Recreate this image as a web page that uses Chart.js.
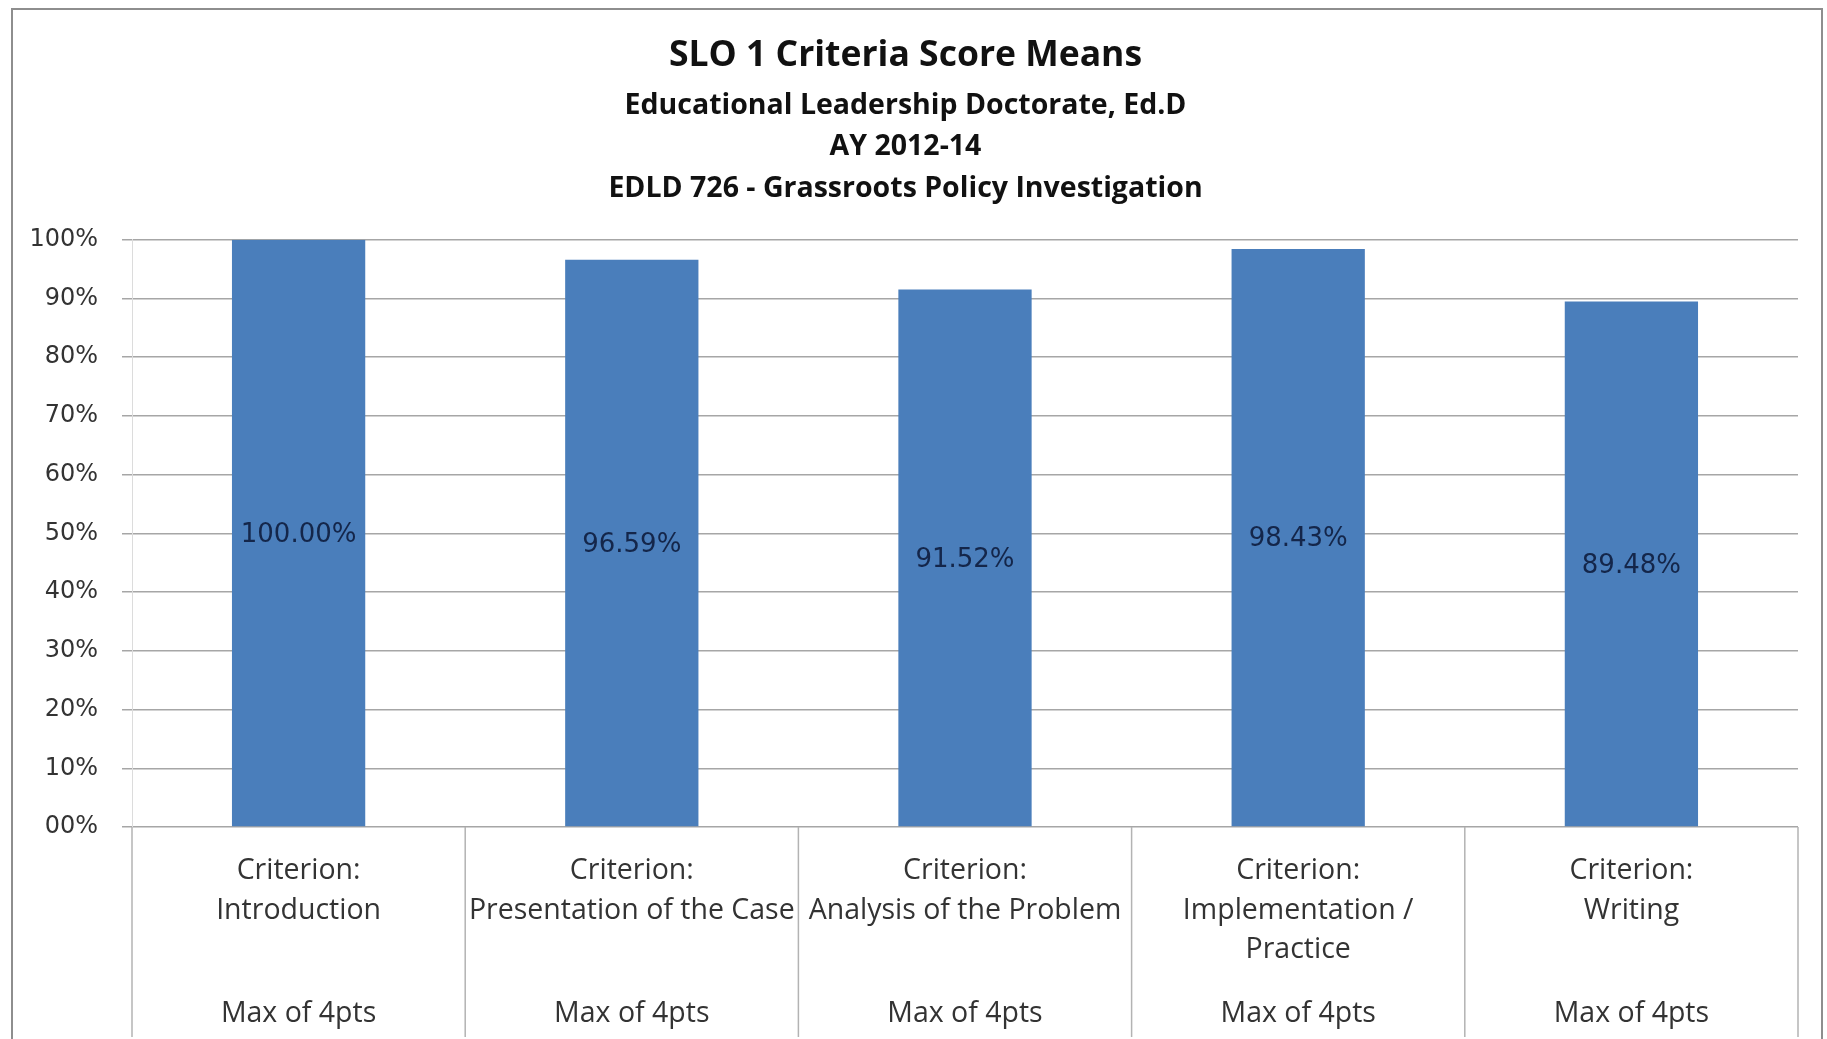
<!DOCTYPE html>
<html lang="en">
<head>
<meta charset="UTF-8">
<title>SLO 1 Criteria Score Means</title>
<script src="https://cdn.jsdelivr.net/npm/chart.js@4.4.0/dist/chart.umd.min.js"></script>
<style>
  html, body { margin: 0; padding: 0; background: #fff; }
  .frame {
    position: absolute; left: 11px; top: 8px; width: 1808px; height: 1031px;
    border: 2px solid #8e8e8e; border-bottom: none;
  }
</style>
</head>
<body>
<div class="frame"><canvas id="chart"></canvas></div>
<script>
// chart data
var criteria = [
  ['Criterion:', 'Introduction'],
  ['Criterion:', 'Presentation of the Case'],
  ['Criterion:', 'Analysis of the Problem'],
  ['Criterion:', 'Implementation /', 'Practice'],
  ['Criterion:', 'Writing']
];
var maxPoints = ['Max of 4pts', 'Max of 4pts', 'Max of 4pts', 'Max of 4pts', 'Max of 4pts'];
var scoreMeans = [100.00, 96.59, 91.52, 98.43, 89.48];
var yTickLabels = ['00%', '10%', '20%', '30%', '40%', '50%', '60%', '70%', '80%', '90%', '100%'];

var textColor = '#333333';

// lines between the categories, below the plot area
var separators = {
  id: 'separators',
  afterDraw: function (chart) {
    var ctx = chart.ctx, area = chart.chartArea, xs = chart.scales.x;
    var n = criteria.length;
    ctx.save();
    ctx.strokeStyle = '#b3b3b3';
    ctx.lineWidth = 1.5;
    for (var i = 0; i <= n; i++) {
      var x;
      if (i === 0) x = area.left;
      else if (i === n) x = area.right;
      else x = (xs.getPixelForValue(i - 1) + xs.getPixelForValue(i)) / 2;
      ctx.beginPath();
      ctx.moveTo(x, area.bottom);
      ctx.lineTo(x, chart.height - 4);
      ctx.stroke();
    }
    ctx.restore();
  }
};

// value labels in the middle of each bar
var barValues = {
  id: 'barValues',
  afterDatasetsDraw: function (chart) {
    var ctx = chart.ctx;
    var meta = chart.getDatasetMeta(0);
    ctx.save();
    ctx.font = '26px "DejaVu Sans"';
    ctx.fillStyle = '#14264a';
    ctx.textAlign = 'center';
    ctx.textBaseline = 'middle';
    meta.data.forEach(function (bar, i) {
      ctx.fillText(scoreMeans[i].toFixed(2) + '%', bar.x, (bar.y + bar.base) / 2 + 2);
    });
    ctx.restore();
  }
};

var ctx = document.getElementById('chart');
var myChart = new Chart(ctx, {
  type: 'bar',
  data: {
    labels: criteria,
    datasets: [{
      label: 'Score mean',
      data: scoreMeans,
      backgroundColor: '#4a7ebb',
      borderWidth: 0,
      barPercentage: 0.4,
      categoryPercentage: 1.0
    }]
  },
  options: {
    responsive: true,
    maintainAspectRatio: false,
    animation: false,
    layout: { padding: { left: 0, right: 23, top: 0, bottom: 0 } },
    plugins: {
      legend: { display: false },
      tooltip: { enabled: false },
      title: {
        display: true,
        text: 'SLO 1 Criteria Score Means',
        color: '#111',
        font: { family: 'Open Sans', size: 35.5, weight: 'bold', lineHeight: 1.2 },
        padding: { top: 25, bottom: 6 }
      },
      subtitle: {
        display: true,
        text: ['Educational Leadership Doctorate, Ed.D', 'AY 2012-14', 'EDLD 726 - Grassroots Policy Investigation'],
        color: '#111',
        font: { family: 'Open Sans', size: 28.5, weight: 'bold', lineHeight: 1.45 },
        padding: { top: 1.5, bottom: 30.7 }
      }
    },
    scales: {
      x: {
        type: 'category',
        grid: { display: false },
        border: { display: false },
        ticks: {
          color: textColor,
          maxRotation: 0,
          autoSkip: false,
          padding: 16,
          font: { family: 'Open Sans', size: 28.5, lineHeight: 1.39 }
        },
        afterFit: function (s) { s.height = 143; }
      },
      x2: {
        type: 'category',
        position: 'bottom',
        labels: maxPoints,
        offset: true,
        grid: { display: false },
        border: { display: false },
        ticks: {
          color: textColor,
          maxRotation: 0,
          autoSkip: false,
          padding: 16,
          font: { family: 'Open Sans', size: 28.5, lineHeight: 1.39 }
        },
        afterFit: function (s) { s.height = 71; }
      },
      y: {
        min: 0,
        max: 100,
        ticks: {
          stepSize: 10,
          color: textColor,
          padding: 24,
          font: { family: 'DejaVu Sans', size: 24 },
          callback: function (v, i) { return yTickLabels[i]; }
        },
        grid: { color: '#a6a6a6', lineWidth: 1.5, tickLength: 10 },
        border: { display: true, color: '#dcdcdc' },
        afterFit: function (s) { s.width = 119; }
      }
    }
  },
  plugins: [separators, barValues]
});
</script>
</body>
</html>
